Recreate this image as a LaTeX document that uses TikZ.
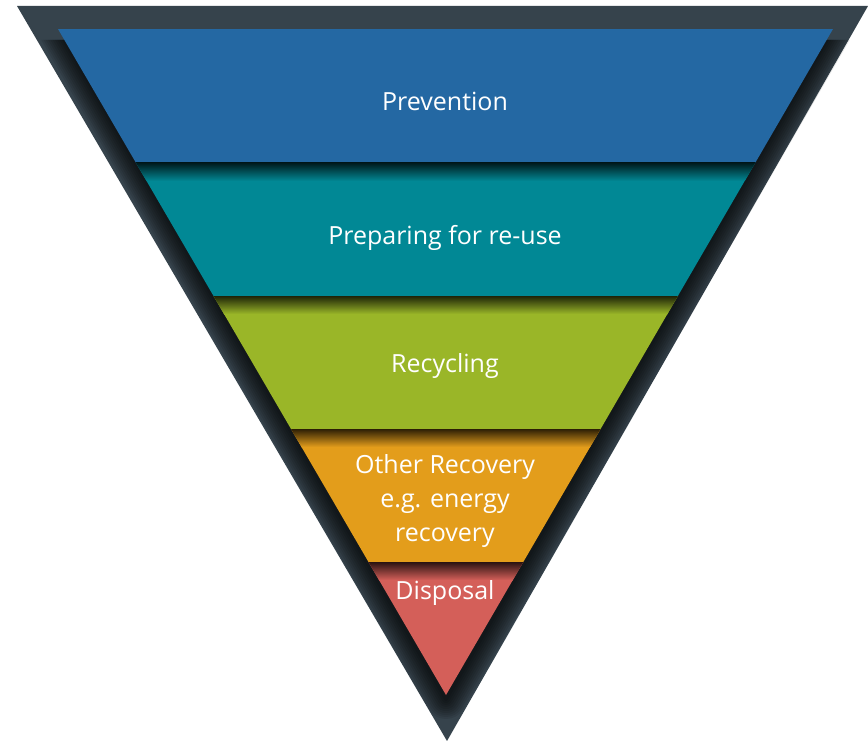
\documentclass[tikz,border=0pt]{standalone}
\usepackage{fontspec}
\setmainfont{Open Sans}

\definecolor{framegrey}{HTML}{36434C}
\definecolor{prevblue}{HTML}{2468A3}
\definecolor{reuseteal}{HTML}{018895}
\definecolor{recycgreen}{HTML}{9AB628}
\definecolor{recovorange}{HTML}{E39D1B}
\definecolor{dispred}{HTML}{D45F59}

\begin{document}
\begin{tikzpicture}[x=1pt, y=-1pt,
  tier/.style={fill=#1},
  tiershade/.style={top color=#1!20!black, bottom color=#1},
  tierlabel/.style={text=white, align=center, inner sep=0pt,
    font=\fontsize{25}{34}\selectfont}
]
  \useasboundingbox (0,0) rectangle (868,741);

  % dark frame
  \fill[framegrey] (17,6) -- (868,6) -- (447,741) -- cycle;

  % shadow of the coloured wedge on the frame
  \begin{scope}
    \clip (17,40) -- (868,40) -- (447,741) -- cycle;
    \foreach \w in {4,8,...,40}
      \draw[black, opacity=0.09, line width=\w, line join=round]
        (58,29) -- (446,699) -- (833,29);
  \end{scope}

  % tiers
  \begin{scope}
    \clip (58,29) -- (833,29) -- (446,695) -- cycle;
    \fill[tier=prevblue] (0,29) rectangle (868,163);
    \fill[tier=reuseteal] (0,163) rectangle (868,296);
    \shade[tiershade=reuseteal] (0,163) rectangle (868,181);
    \fill[tier=recycgreen] (0,296) rectangle (868,429);
    \shade[tiershade=recycgreen] (0,296) rectangle (868,314);
    \fill[tier=recovorange] (0,429) rectangle (868,562);
    \shade[tiershade=recovorange] (0,429) rectangle (868,447);
    \fill[tier=dispred] (0,562) rectangle (868,741);
    \shade[tiershade=dispred] (0,562) rectangle (868,580);
  \end{scope}

  % labels
  \node[tierlabel] (prev) at (445,101) {Prevention};
  \node[tierlabel] (reuse) at (445,238) {Preparing for re-use};
  \node[tierlabel] (recyc) at (445,366) {Recycling};
  \node[tierlabel] (recov) at (445,501) {Other Recovery\\e.g. energy\\recovery};
  \node[tierlabel] (disp) at (445,593) {Disposal};
\end{tikzpicture}
\end{document}
